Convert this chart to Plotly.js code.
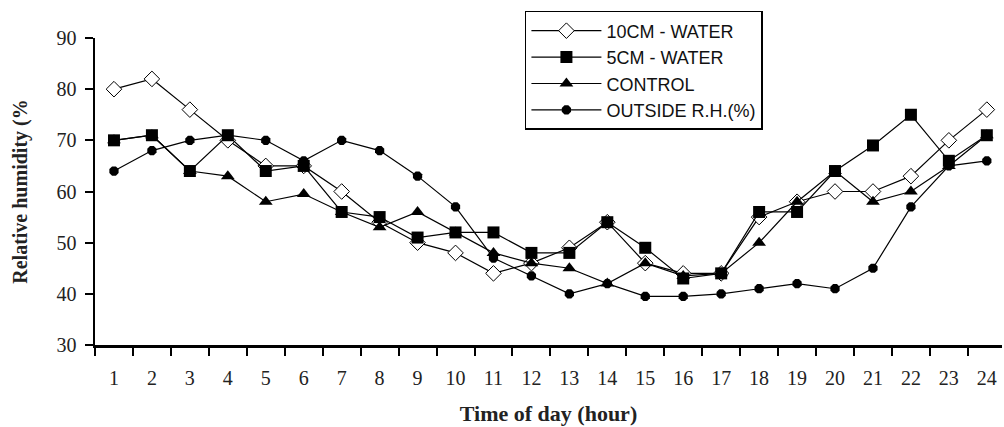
<!DOCTYPE html>
<html>
<head>
<meta charset="utf-8">
<script src="https://cdn.plot.ly/plotly-3.0.1.min.js"></script>
<style>html,body{margin:0;padding:0;background:#fff;}#chart{width:1004px;height:427px;}</style>
</head>
<body>
<div id="chart"></div>
<script>
const hours = [1,2,3,4,5,6,7,8,9,10,11,12,13,14,15,16,17,18,19,20,21,22,23,24];
const water10cm = [80,82,76,70,65,65,60,54,50,48,44,46,49,54,46,44,44,55,58,60,60,63,70,76];
const water5cm  = [70,71,64,71,64,65,56,55,51,52,52,48,48,54,49,43,44,56,56,64,69,75,66,71];
const control   = [70,71,64,63,58,59.5,56,53,56,52,48,46,45,42,46,43.5,44,50,58,64,58,60,65,71];
const outsideRH = [64,68,70,71,70,66,70,68,63,57,47,43.5,40,42,39.5,39.5,40,41,42,41,45,57,65,66];
const seriesNames = ['10CM - WATER','5CM - WATER','CONTROL','OUTSIDE R.H.(%)'];
const yTicks = [30,40,50,60,70,80,90];

const lineStyle = {color:'#000', width:1.2};
const traces = [
  {x:hours, y:water10cm, name:seriesNames[0], mode:'lines+markers', line:lineStyle,
   marker:{symbol:'diamond', size:12, color:'#fff', line:{color:'#000', width:1}}},
  {x:hours, y:water5cm, name:seriesNames[1], mode:'lines+markers', line:lineStyle,
   marker:{symbol:'square', size:12, color:'#000'}},
  {x:hours, y:control, name:seriesNames[2], mode:'lines+markers', line:lineStyle,
   marker:{symbol:'triangle-up', size:12, color:'#000'}},
  {x:hours, y:outsideRH, name:seriesNames[3], mode:'lines+markers', line:lineStyle,
   marker:{symbol:'octagon', size:10, color:'#000'}}
];

const serif = 'Liberation Serif, Times New Roman, serif';
const layout = {
  width:1004, height:427,
  margin:{l:95, r:2, t:38, b:82},
  paper_bgcolor:'#fff', plot_bgcolor:'#fff',
  showlegend:true,
  legend:{x:0.474, y:1.088, xanchor:'left', yanchor:'top',
    bordercolor:'#000', borderwidth:1.5, bgcolor:'#fff',
    font:{family:'Liberation Sans, Arial, sans-serif', size:18, color:'#111'},
    itemwidth:70, tracegroupgap:0},
  xaxis:{range:[0.5,24.4], tickvals:hours, ticktext:hours.map(String),
    ticks:'', showgrid:false, zeroline:false,
    showline:true, linecolor:'#000', linewidth:2.5,
    ticklabelstandoff:13,
    minor:{tick0:0.5, dtick:1, ticks:'outside', ticklen:8, tickwidth:2, tickcolor:'#000', showgrid:false},
    tickfont:{family:serif, size:20, color:'#222'},
    title:{text:'<b>Time of day (hour)</b>', font:{family:serif, size:22, color:'#222'}, standoff:18}},
  yaxis:{range:[30,90], tickvals:yTicks, ticks:'outside', ticklen:8, tickwidth:2, tickcolor:'#000',
    showgrid:false, zeroline:false, showline:true, linecolor:'#000', linewidth:2.5,
    ticklabelstandoff:4,
    tickfont:{family:serif, size:20, color:'#222'},
    title:{text:'<b>Relative humidity (%</b>', font:{family:serif, size:20, color:'#222'}, standoff:24}}
};
Plotly.newPlot('chart', traces, layout, {displayModeBar:false, staticPlot:true});
</script>
</body>
</html>
